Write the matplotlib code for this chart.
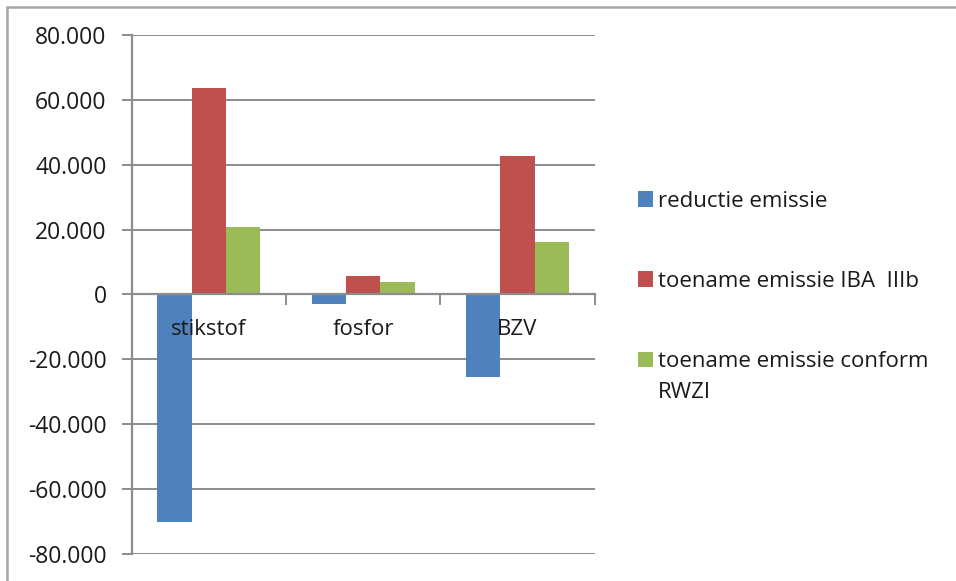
import matplotlib
matplotlib.use("Agg")
import matplotlib.pyplot as plt
from matplotlib.patches import Rectangle
from matplotlib.ticker import FixedLocator, FuncFormatter, NullFormatter
import numpy as np

categories = ["stikstof", "fosfor", "BZV"]
series_names = ["reductie emissie", "toename emissie IBA  IIIb",
                "toename emissie conform\nRWZI"]
reductie = [-70000, -2900, -25300]
toename_iba = [63600, 5700, 42600]
toename_rwzi = [20700, 3800, 16300]
colors = ["#4F81BD", "#C0504D", "#9BBB59"]
y_ticks = [-80000, -60000, -40000, -20000, 0, 20000, 40000, 60000, 80000]

plt.rcParams["font.family"] = ["Open Sans", "DejaVu Sans"]
text_color = "#1a1a1a"
grid_color = "#8c8c8c"
font_size = 16

W, H = 956, 581
fig = plt.figure(figsize=(W / 100, H / 100), dpi=100)
ax = fig.add_axes([131.7 / W, 1 - 554.3 / H, (594.5 - 131.7) / W,
                   (554.3 - 34.7) / H])

n_cat = len(categories)
x = np.arange(n_cat)
bar_w = 1.0 / 4.5
for i, (vals, col, name) in enumerate(zip([reductie, toename_iba, toename_rwzi],
                                          colors, series_names)):
    ax.bar(x + (i - 1) * bar_w, vals, width=bar_w, color=col, label=name,
           zorder=3, linewidth=0)

ax.set_xlim(-0.5, n_cat - 0.5)
ax.set_ylim(-80000, 80000)

# horizontal gridlines
ax.yaxis.set_major_locator(FixedLocator(y_ticks))
ax.grid(axis="y", color=grid_color, linewidth=1.4, zorder=0)
ax.set_axisbelow(True)


def fmt(v, pos):
    return f"{int(round(v)):,}".replace(",", ".")


ax.yaxis.set_major_formatter(FuncFormatter(fmt))
ax.tick_params(axis="y", length=7, width=1.4, color=grid_color, pad=11,
               labelsize=16.5, labelcolor=text_color)

# category axis at zero
for s in ["top", "right"]:
    ax.spines[s].set_visible(False)
ax.spines["left"].set_color(grid_color)
ax.spines["left"].set_linewidth(1.6)
ax.spines["bottom"].set_position(("data", 0))
ax.spines["bottom"].set_color(grid_color)
ax.spines["bottom"].set_linewidth(1.6)
ax.spines["bottom"].set_zorder(4)

ax.set_xticks(np.arange(n_cat + 1) - 0.5)
ax.xaxis.set_major_formatter(NullFormatter())
ax.tick_params(axis="x", which="major", length=8, width=1.4,
               color=grid_color, direction="out")

# category names sit just below the zero line, drawn over the bars
for xi, cat in zip(x, categories):
    ax.annotate(cat, xy=(xi, 0), xytext=(0, -18), textcoords="offset points",
                ha="center", va="top", fontsize=font_size, color=text_color,
                zorder=6, annotation_clip=False)

# legend: colour squares with labels, first text line aligned to its square
marker_x0, marker_size = 637.7, 15.5
text_x = 658
row_baselines = [206.7, 286.7, 367.3]
for col, name, base in zip(colors, series_names, row_baselines):
    fig.patches.append(Rectangle((marker_x0 / W, 1 - base / H),
                                 marker_size / W, marker_size / H,
                                 transform=fig.transFigure, facecolor=col,
                                 edgecolor="none"))
    fig.text(text_x / W, 1 - base / H, name.split("\n")[0], fontsize=font_size,
             color=text_color, ha="left", va="baseline")
    for k, extra in enumerate(name.split("\n")[1:], start=1):
        fig.text(text_x / W, 1 - (base + 31 * k) / H, extra,
                 fontsize=font_size, color=text_color, ha="left",
                 va="baseline")

# chart frame
fig.patches.append(Rectangle((6.7 / W, -0.1), 1.2, 1 - 6.5 / H + 0.1,
                             transform=fig.transFigure, fill=False,
                             edgecolor="#a6a6a6", linewidth=1.8))

fig.savefig("out.png", dpi=100, facecolor="white")
